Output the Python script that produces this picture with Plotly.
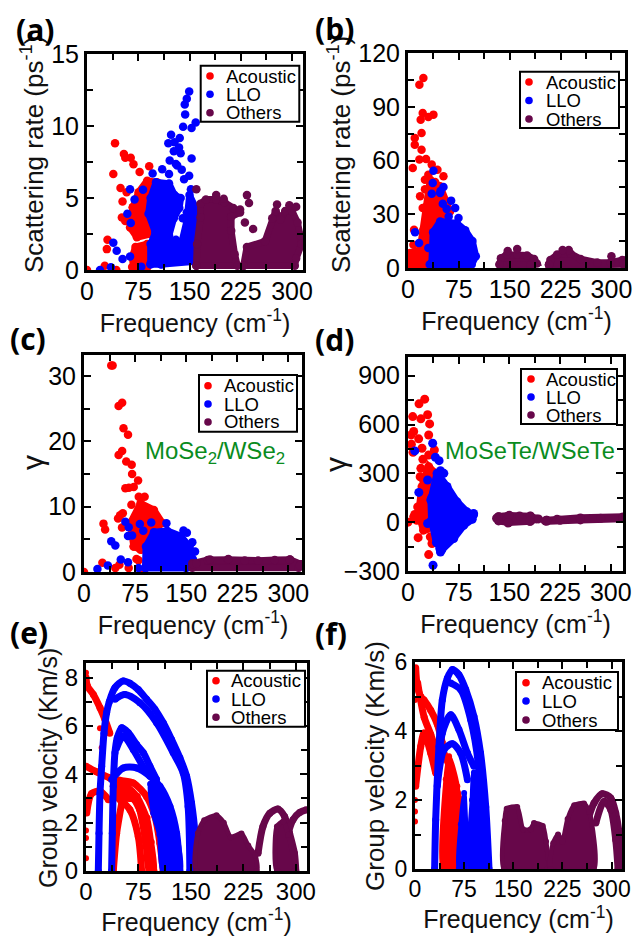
import plotly.graph_objects as go

W, H = 634, 936
RED, BLUE, MAROON = "#ff0000", "#0000ff", "#67074a"
GREEN = "#0a8c1e"
SANS = "Liberation Sans, Arial, sans-serif"
SERIES = ["Acoustic", "LLO", "Others"]

# ---------- (a) scattering rate, MoSe2/WSe2 ----------
a_red_pts = [(41,8.8),(54,8.05),(56,7.8),(64,7.8),(68,7.35),(38.5,6.67),(77,6.8),(91,7.2),(49,5.7),(58,5.4),
             (52,4.75),(51,3.65),(56,3.4),(30,2.1),(29,1.45),(26,.3),(43,0),(0,0),(66,.2),(80,0),(110,5.9),(112,3.4),(110,1.4),(122,.9)]
a_red_blobs = [[(67,4.35),(75.5,5.4),(88,6.2),(102.6,6.1),(107.6,4.8),(107.6,2.96),(92.8,2.5),(73,2.27),(63,2.96),(65.6,3.9)],
               [(66,.9),(71,1.6),(88,1.8),(88,.2),(68,.2)]]
a_blue_pts = [(149.5,12.4),(146,11.9),(143,11.5),(143.6,10.8),(140.6,9.95),(153,9.86),(159,10.25),(123,9.4),(119,8.8),(135.7,9.17),
              (128,8.87),(134.7,8.5),(127,8.24),(137,8.1),(153,7.75),(121,7.6),(130,7.36),(132,7.25),(138.6,6.97),(110,7),
              (149.5,6.55),(142,6.3),(96,6.7),(120,6.67),(63,5.6),(69.6,4.9),(59,3.9),(64,3.26),(82,5.58),(38.5,1.9),
              (43.4,1.34),(52,.76),(63,.93),(35,.19),(19,0),(79.5,.23),(152,5.6),(146,4),(140,3.6),(150,2.2)]
a_blue_blobs = [[(93,.4),(93,1.8),(100,2.6),(90,3.9),(93,5),(101,6.1),(120,6),(128,5.2),(137,5),(135,4.3),
                 (127,3.6),(120,2.4),(122,1),(110,.4)],
                [(108,.4),(108,1.6),(130,2.1),(138,1.8),(146,3.4),(150,5.2),(159,4.3),(159,.6)]]
a_others_pts = [(160,5.6),(234,5.2),(237,4.65),(243,2.85),(231,3.3),(189,5.2),(200,4.95),(224,4.2),(278,4.55),(296,4.5),(306,4.4)]
a_others_blobs = [[(160,.3),(161,1.8),(166,3.66),(166,4.6),(174,4.9),(189,4.9),(201,4.7),(214,4.3),(224,4),(211,3.7),
                   (211,2.73),(216,1.1),(220,.3)],
                  [(229,.3),(234,1.6),(260.5,2),(271,3.6),(276,4.1),(283,3.5),(290,4.1),(300,4.1),(308,3.3),(312,2.4),(314,1.8),(306,.8),(304,.3)]]

# ---------- (b) scattering rate, MoSeTe/WSeTe ----------
b_red_pts = [(22.7,106),(16.8,102.3),(21.7,86.5),(18.7,82.8),(37.5,85.6),(30,84.3),(20,75.3),(10,72.6),(10,68.8),(20,66),
             (7,55.8),(26.6,60.8),(16.8,60.5),(35,57.7),(43.4,54.9),(52.3,51.2),(25,49.3),(17.8,40),(21.7,33.5),(8.9,21.4),
             (0.5,0),(8,13),(30,52),(25,44),(40,48)]
b_red_blobs = [[(2,1),(3,8.4),(17.8,10.2),(22.7,21.4),(27.6,34.4),(32.6,49.3),(47.4,45.6),(62,31.6),(47.4,23.3),(32.6,8.4),(27.6,1)]]
b_blue_pts = [(37.5,54.3),(36.5,47.4),(52.3,45.2),(35,41.5),(47.4,41.9),(51.3,35.9),(63.6,37.6),(69.6,33.5),(74.5,27.9),(10.4,19.9),
              (16.3,14),(30,11.2),(60,28.8),(57,33),(48,43)]
b_blue_blobs = [[(35,2.8),(37,20),(47.4,26),(72,25),(84.4,21),(95,15),(100,6.5),(94,2),(54.8,1),(32,2)]]
b_others_pts = [(161,10.6),(147,9.5),(300,6.5),(237,10),(228,10)]
b_others_blobs = [[(135,2),(137,5.5),(146,7.5),(161,7.5),(175.6,7),(186,5),(190,2.5),(181,1.5),(140,1.5)],
                  [(208,2),(210,4.5),(220,7.5),(240,8),(254.6,5),(279,3),(299,3),(316,4.5),(318,2),(208,1.5)]]

# ---------- (c) gamma, MoSe2/WSe2 ----------
c_red_pts = [(40,31.6),(42,31.6),(50.8,25.4),(56,25.9),(58,22),(64.6,21),(50.8,17.9),(56,18.5),(62,16.9),(70,16.4),
             (70.6,15),(79.4,14),(60.7,12.8),(66,12.9),(73,13),(89,11.5),(80.4,11.5),(69.6,10.3),(57,9),(53,8.7),(50,8.2),
             (28.6,7.4),(31,6.5),(55.8,6.8),(27,1.4),(46,.6),(52,1.1),(0,0),(65.6,.6),(77,2),(88,.1),(80,1.8)]
c_red_blobs = [[(73,3.9),(68,7.5),(83,10.5),(102.6,9.5),(115,7.5),(92.8,5.4),(83,3.4)]]
c_blue_pts = [(60.7,7.7),(65.6,6.85),(64.6,5.5),(70.6,5.6),(40,4.7),(46,4.06),(54,1.9),(64.6,1.5),(19.7,.46),(35,1),
              (82,7.36),(98.7,7.56),(87,6.3),(121,7.46),(146,6.35),(151,6),(159,4.57),(163,3.15),(80,.6)]
c_blue_blobs = [[(90,.6),(91,3.9),(102.6,6.1),(122,6.3),(142,5.5),(155,3.9),(160,1.9),(150,.6)]]
c_others_pts = [(160,1.2),(165,1.3),(185,1.9),(212,2),(302,1.9),(317,1)]
c_others_blobs = [[(159,1.3),(181.6,1.85),(211,1.9),(236,1.75),(255.6,1.75),(280,1.85),(302.5,1.9),(318,1.2),(315,.65),(159,.65)]]

# ---------- (d) gamma, MoSeTe/WSeTe ----------
d_red_pts = [(24.7,756),(16.3,727),(7,649),(19,635),(29,660),(32,604),(8.4,557),(4.4,536),(15.8,512),(5,479),
             (30.6,536),(39,444),(20.7,454),(7.4,429),(30.6,413),(22,386),(19,331),(35.5,310),(18,279),(23,259),
             (14.3,94),(8.4,33),(0,0),(13,12),(15,-95),(28,-39),(33,-90),(35.5,-131),(30.6,-199),(24,33),(10,47)]
d_red_blobs = [[(15.8,53),(20.7,218),(30.6,341),(40.5,300),(38,-29),(23,-49)]]
d_blue_pts = [(36.5,485),(10,438),(40.5,399),(46,378),(48,316),(53,300),(29,259),(16,183),(37,-265),(33,2),
              (29,-8),(48,-183),(47,-162),(95,43),(97,53),(35,150)]
d_blue_blobs = [[(34,136),(43,300),(57.7,220),(72.5,125),(87,64),(97,45),(95,18),(82.4,-20),(67.6,-100),(50,-170),(42,-125),(35,12)]]
d_others_pts = [(131,24),(150,42),(165,38),(181,38),(193,20),(148,-5),(180,5),(203,8),(225,12),(255,22),(285,24),(318,26)]
d_others_blobs = [[(134,34),(149,40),(181,36),(190,20),(181,6),(149,-2),(134,8)],
                  [(205,12),(220.5,18),(255,26),(318,32),(318,22),(255,14),(205,6)]]

# ---------- (e) group velocity, MoSe2/WSe2 ----------
e_red_pts = [(0,.53),(0,1.36),(0,1.67),(0,2.4),(0,2.9),(0,8.2),(20,5.9),(22.4,5.1)]
e_red_arcs = [[(0,8),(2,7.65),(10.5,7.3),(20,6.75),(27,6.27),(34,5.7)],
              [(0,4.33),(15,4.1),(34,3.85),(48.6,3.75),(67.6,3.64),(86.6,3.08),(98.5,2.26),(105.7,1.15),(110.4,0)],
              [(39,3.5),(58,3.36),(77,2.53),(89,1.43),(93.8,0)],
              [(48.6,2.95),(62.8,2.53),(74.7,1.43),(79.5,0)],
              [(39,0),(43.8,1.56),(51,2.8)],
              [(1,2.4),(8,3.2),(20,3.3),(32,2.95)]]
e_red_blobs = [[(40,3.6),(60,3.5),(74,3.1),(88,2.2),(94,1.2),(98,0),(89,0),(84,1.2),(70,2.9),(40,3.0)]]
e_blue_arcs = [[(17.6,0),(18.6,1.56),(20,3.2),(22.4,4.33),(25.7,5.7),(29.5,6.55),(33.3,7),(41.4,7.58),(53.3,7.86),(62.8,7.76),
                (74.7,7.5),(86.6,7.1),(98.5,6.69),(110.4,6.13),(122.3,5.44),(134.2,4.68),(143.8,3.92),(150.9,2.81),(155.7,1.56),(155.7,0)],
               [(41.4,7.1),(55.7,7.3),(77,6.96),(101,6.13),(124.7,4.89),(139,4.05),(146,2.67),(148.5,0)],
               [(36.6,0),(37.6,1.56),(39,3.5),(41.4,4.89),(44.7,5.5),(51,5.92),(60.5,5.72),(72.4,5.23),(81.9,4.89),(91.4,4.33),(100.9,3.78)],
               [(43.8,5.09),(53.3,5.58),(67.6,5.02),(86.6,4.05)],
               [(36.6,3.78),(53.3,4.26),(72.4,4.26),(91.4,3.92),(105.7,3.5),(120,2.67),(129.5,1.56),(134,0)]]
e_blue_blobs = [[(92,3.6),(105,3.4),(120,2.6),(130,1.5),(135,0),(110,0),(105,1.5),(96,2.4)]]
e_others_arcs = [[(246,.73),(253,1.84),(262.8,2.39),(274.6,2.56),(284,2.25),(291,1.56),(298,.73),(300,0)],
                 [(289,1.56),(296,2.12),(305.6,2.42),(315,2.53)]]
e_others_blobs = [[(158,0),(160,1.56),(169,2.1),(186.6,2.3),(197,2),(207,1.4),(222.3,1.55),(232,1.05),(242,.65),(244,0)],
                  [(273,0),(273,1.84),(282,2.05),(289,1.5),(298,0)]]

# ---------- (f) group velocity, MoSeTe/WSeTe ----------
f_red_pts = [(0,4.9),(0,2),(0,1.67),(0,1.38),(0,5.8)]
f_red_arcs = [[(1,5.83),(3.5,5.3),(8.7,5),(13.7,4.9),(24,4.6),(34,4.2),(41.7,3.65)],
              [(1,2.4),(8.7,3.55),(13.7,3.94),(24,3.36),(31.6,2.78)],
              [(4,5.4),(14,4.4),(24,3.9),(34,3.3)],
              [(44,3.36),(54.5,2.88),(64.6,2.2),(75,1.43),(80,0)]]
f_red_blobs = [[(43,0),(47,2.6),(52,3.27),(64.6,2.4),(62,0)]]
f_blue_arcs = [[(30,0),(31.6,1.43),(36.6,3.55),(41.7,4.9),(49.4,5.53),(57,5.78),(67,5.63),(77.4,5.2),(90,4.42),(100,3.36),(108,1.8),(113,0)],
               [(54.5,5.39),(69.7,5.2),(85,4.33),(97.7,2.88),(105,0)],
               [(36.6,3.07),(41.7,3.94),(54.5,4.47),(67,4.04),(80,3.36),(90,2.98)],
               [(34,2.4),(44.3,3.46),(57,3.63),(69.7,3.36),(80,2.59)]]
f_blue_blobs = [[(67,0),(70,1.3),(75,2.2),(76,0)],
                [(85,0),(87,2),(90,2.8),(101,2.3),(110,0)]]
f_others_arcs = [[(265.7,1.53),(273.3,1.91),(286,2.18),(298.8,2.06),(306.4,1.62),(311.5,1.04),(315,0)],
                 [(276,1.33),(288.6,1.96),(298.8,1.72),(306.4,.85),(310,0)]]
f_others_blobs = [[(136,0),(137,1.4),(140,1.75),(156,1.8),(165,1.15),(176.6,1.15),(181.7,1.33),(195,1.25),(200,.8),(202,0)],
                  [(207,0),(211,.75),(218.4,1),(225,.8),(233,1.45),(243,1.85),(258,1.9),(266,1.65),(273,0)]]

# ---------- axes ----------
x_tick_vals = [0, 75, 150, 225, 300]
panels = [
    dict(id="a", box=(87, 303, 54, 270), xr=(0, 316), yr=(0, 15), dy=5, ytitle="Scattering rate (ps<sup>-1</sup>)",
         data=[(a_red_pts, a_red_blobs, []), (a_blue_pts, a_blue_blobs, []), (a_others_pts, a_others_blobs, [])],
         ms=8.5, tick=25, ytx=33, yty=155, yts=26, xst=7, xts=25,
         leg=(200.7, 299.3, 65.7, 121.7, 210, 224, (76, 94.3, 112.7)), lab=(35, 29)),
    dict(id="b", box=(408, 625, 53, 268), xr=(0, 320), yr=(0, 120), dy=30, ytitle="Scattering rate (ps<sup>-1</sup>)",
         data=[(b_red_pts, b_red_blobs, []), (b_blue_pts, b_blue_blobs, []), (b_others_pts, b_others_blobs, [])],
         ms=8.5, tick=25, ytx=340, yty=155, yts=26, xst=7, xts=25,
         leg=(520, 619, 71.7, 128, 529, 544, (82, 100.5, 119)), lab=(334, 28)),
    dict(id="c", box=(84, 302, 355, 572), xr=(0, 320), yr=(0, 33.2), dy=10, ytitle="γ",
         data=[(c_red_pts, c_red_blobs, []), (c_blue_pts, c_blue_blobs, []), (c_others_pts, c_others_blobs, [])],
         ms=8.5, tick=25, ytx=32, yty=463, yts=30, xst=7, xts=25,
         leg=(199, 297, 375, 431.7, 208, 222, (385.7, 404, 422)), lab=(28, 338)),
    dict(id="d", box=(408, 623, 357, 571), xr=(0, 318), yr=(-300, 1015), dy=300, ytitle="γ",
         data=[(d_red_pts, d_red_blobs, []), (d_blue_pts, d_blue_blobs, []), (d_others_pts, d_others_blobs, [])],
         ms=9, tick=25, ytx=335, yty=465, yts=30, xst=7, xts=25,
         leg=(521, 617, 369, 424, 531, 544, (379, 397, 415)), lab=(334, 339)),
    dict(id="e", box=(86, 307, 663, 871), xr=(0, 316), yr=(0, 8.6), dy=2, ytitle="Group velocity (Km/s)",
         data=[(e_red_pts, e_red_blobs, e_red_arcs), ([], e_blue_blobs, e_blue_arcs), ([], e_others_blobs, e_others_arcs)],
         ms=6, tick=24, ytx=48, yty=768, yts=25, xst=7, xts=25,
         leg=(207, 305, 670.7, 726.7, 216, 229, (680.7, 699, 717.3)), lab=(29, 632)),
    dict(id="f", box=(415, 622, 662, 869), xr=(0, 316), yr=(0, 6), dy=2, ytitle="Group velocity (Km/s)",
         data=[(f_red_pts, f_red_blobs, f_red_arcs), ([], f_blue_blobs, f_blue_arcs), ([], f_others_blobs, f_others_arcs)],
         ms=6, tick=23, ytx=375, yty=766, yts=26, xst=7, xts=25,
         leg=(516, 618, 672, 730, 526, 540, (682.7, 701, 720)), lab=(331, 633)),
]
green_labels = [("MoSe<sub>2</sub>/WSe<sub>2</sub>", 215, 452, 24), ("MoSeTe/WSeTe", 530, 451, 23.7)]


def px(x):
    return x / W


def py(y):
    return 1 - y / H


fig = go.Figure()
shapes, annotations = [], []
layout = {}
colors = [RED, BLUE, MAROON]

for i, p in enumerate(panels):
    sfx = "" if i == 0 else str(i + 1)
    xa, ya = "x" + sfx, "y" + sfx
    l, r, t, b = p["box"]
    layout["xaxis" + sfx] = dict(
        domain=[px(l), px(r)], anchor=ya, range=list(p["xr"]), tickmode="array", tickvals=x_tick_vals,
        ticks="inside", ticklen=7, tickwidth=2, tickcolor="black", showline=True, linewidth=3, linecolor="black",
        mirror="ticks", showgrid=False, zeroline=False, automargin=False, ticklabelstandoff=-3,
        tickfont=dict(family=SANS, size=p["tick"], color="black"),
        minor=dict(dtick=37.5, tick0=0, ticks="inside", ticklen=6, tickwidth=2, tickcolor="black", showgrid=False),
        title=dict(text="Frequency (cm<sup>-1</sup>)", font=dict(family=SANS, size=p["xts"], color="#111"), standoff=p["xst"]),
    )
    layout["yaxis" + sfx] = dict(
        domain=[py(b), py(t)], anchor=xa, range=list(p["yr"]), dtick=p["dy"], tick0=0, automargin=False,
        ticks="inside", ticklen=7, tickwidth=2, tickcolor="black", showline=True, linewidth=3, linecolor="black",
        mirror="ticks", showgrid=False, zeroline=False, tickfont=dict(family=SANS, size=p["tick"], color="black"),
        minor=dict(dtick=p["dy"] / 2, tick0=0, ticks="inside", ticklen=6, tickwidth=2, tickcolor="black", showgrid=False),
    )
    rounded = any(d[2] for d in p["data"])
    for name, color, (pts, blobs, arcs) in zip(SERIES, colors, p["data"]):
        for arc in arcs:
            fig.add_trace(go.Scatter(x=[q[0] for q in arc], y=[q[1] for q in arc], xaxis=xa, yaxis=ya, mode="lines+markers",
                                     name=name, showlegend=False,
                                     line=dict(color=color, width=p["ms"] + 1, shape="spline", smoothing=0.8),
                                     marker=dict(color=color, size=p["ms"] + 1)))
        for blob in blobs:
            line = dict(color=color, width=p["ms"] * 0.8)
            if rounded:
                line.update(shape="spline", smoothing=0.6)
            fig.add_trace(go.Scatter(x=[q[0] for q in blob] + [blob[0][0]], y=[q[1] for q in blob] + [blob[0][1]],
                                     xaxis=xa, yaxis=ya, mode="lines+markers", fill="toself", fillcolor=color,
                                     name=name, showlegend=False, line=line,
                                     marker=dict(color=color, size=p["ms"])))
        if pts:
            fig.add_trace(go.Scatter(x=[q[0] for q in pts], y=[q[1] for q in pts], xaxis=xa, yaxis=ya, mode="markers",
                                     name=name, showlegend=False, marker=dict(color=color, size=p["ms"])))
    # y title
    annotations.append(dict(text=p["ytitle"], xref="paper", yref="paper", x=px(p["ytx"]), y=py(p["yty"]), textangle=-90,
                            showarrow=False, xanchor="center", yanchor="middle",
                            font=dict(family=SANS, size=p["yts"], color="#111")))
    # panel letter
    annotations.append(dict(text=f"<b>({p['id']})</b>", xref="paper", yref="paper", x=px(p["lab"][0]), y=py(p["lab"][1]),
                            showarrow=False, xanchor="center", yanchor="middle",
                            font=dict(family="Open Sans, sans-serif", size=30, color="black")))
    # legend box
    x0, x1, y0, y1, mx, tx, rows = p["leg"]
    shapes.append(dict(type="rect", xref="paper", yref="paper", x0=px(x0), x1=px(x1), y0=py(y0), y1=py(y1),
                       line=dict(color="black", width=2), fillcolor="white", layer="above"))
    for name, color, ry in zip(SERIES, colors, rows):
        rad = 3.8
        shapes.append(dict(type="circle", xref="paper", yref="paper", x0=px(mx - rad), x1=px(mx + rad),
                           y0=py(ry + rad), y1=py(ry - rad), line=dict(color=color, width=0), fillcolor=color, layer="above"))
        annotations.append(dict(text=name, xref="paper", yref="paper", x=px(tx), y=py(ry), showarrow=False,
                                xanchor="left", yanchor="middle", font=dict(family=SANS, size=18.5, color="black")))

for text, x, y, size in green_labels:
    annotations.append(dict(text=text, xref="paper", yref="paper", x=px(x), y=py(y), showarrow=False,
                            xanchor="center", yanchor="middle", font=dict(family=SANS, size=size, color=GREEN)))

fig.update_layout(width=W, height=H, autosize=False, margin=dict(l=0, r=0, t=0, b=0), paper_bgcolor="white",
                  plot_bgcolor="white", showlegend=False, shapes=shapes, annotations=annotations, **layout)
fig.write_html("out.html", config={"displayModeBar": False},
               post_script="document.body.style.margin='0';document.body.style.overflow='hidden';")
